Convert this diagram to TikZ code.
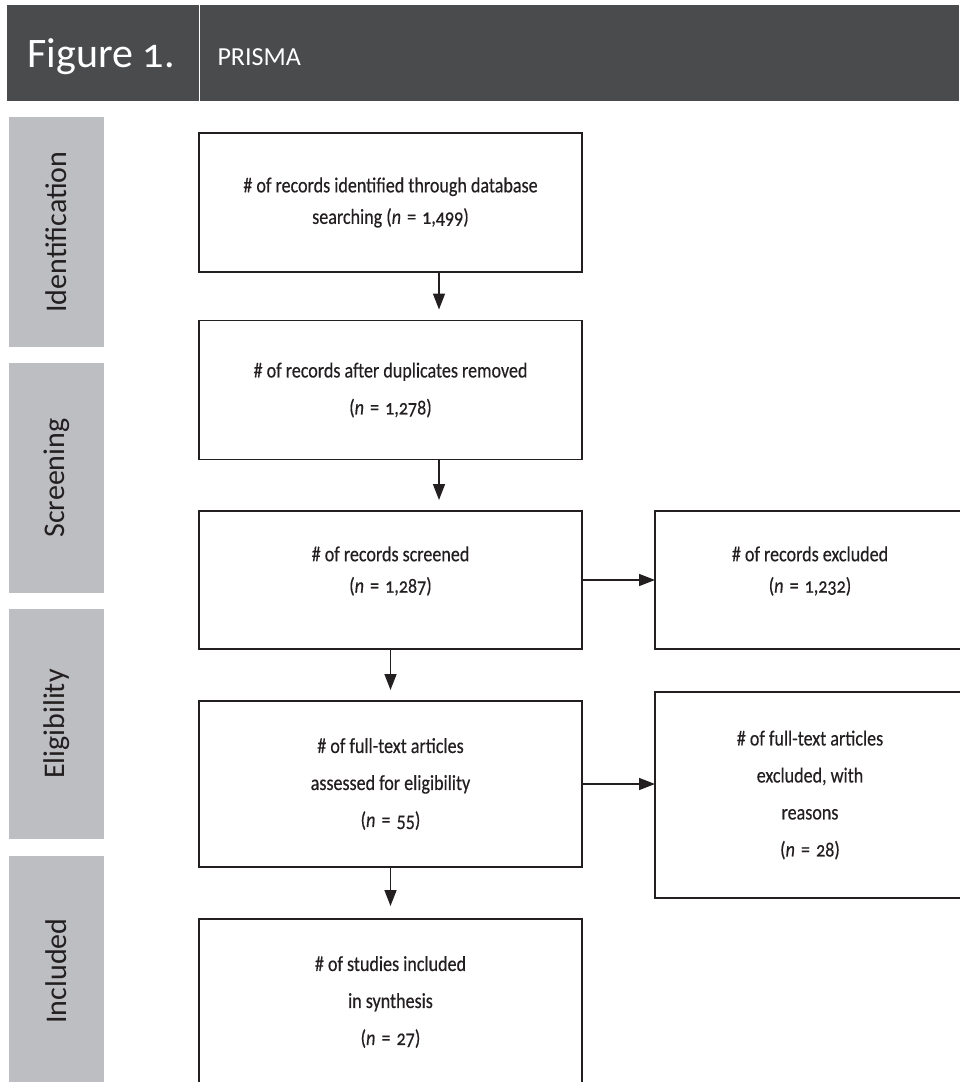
\documentclass[tikz,border=0pt]{standalone}
\usepackage{fontspec}
\setmainfont{Carlito}[Numbers=OldStyle]
\newfontfamily\narrowfont{Carlito}[Numbers=OldStyle, FakeStretch=0.84, FakeBold=0.4]
\usetikzlibrary{arrows.meta, positioning, calc}
\definecolor{headgray}{RGB}{74, 75, 77}
\definecolor{phasegray}{RGB}{189, 190, 194}
\definecolor{inkblack}{RGB}{35, 31, 32}
\newcommand{\nval}[1]{(\textit{n}\hspace{2pt} = \hspace{2pt}#1)}

\begin{document}
\begin{tikzpicture}[x=1pt, y=-1pt,
        arr/.style={-{Triangle[length=16pt, width=12pt]}, line width=1.6pt, draw=inkblack},
        box/.style={draw=inkblack, line width=1.5pt, minimum width=383pt,
                    minimum height=139pt, align=center, outer sep=0pt,
                    text=inkblack, font=\narrowfont\fontsize{21.5}{37}\selectfont},
        tight/.style={font=\narrowfont\fontsize{21.5}{31.5}\selectfont},
        raised/.style={text depth=21pt},
        sidebox/.style={box, minimum width=310pt},
        phase/.style={fill=phasegray, rotate=90, minimum width=230pt,
                      minimum height=95pt, outer sep=0pt, text=inkblack,
                      font=\fontsize{30}{30}\selectfont}
      ]
        \useasboundingbox (0,0) rectangle (959,1082);

        % header band
        \fill[headgray] (7,5) rectangle (959,101);
        \draw[white, line width=1pt] (199,5) -- (199,101);
        \node[anchor=west, text=white, font=\fontsize{42}{42}\selectfont] (fig) at (24,57)
              {Figure 1.};
        \node[anchor=west, text=white, font=\fontsize{26}{26}\selectfont] (title) at (214,57)
              {PRISMA};

        % phases
        \node[phase] (ident) at (56.5, 232) {Identification};
        \node[phase] (screen) at (56.5, 478) {Screening};
        \node[phase] (elig) at (56.5, 724) {Eligibility};
        \node[phase] (incl) at (56.5, 971) {Included};

        % main column
        \node[box, tight] (found) at (390.5, 202.5)
              {\# of records identified through database\\searching \nval{1,499}};
        \node[box] (dedup) at (390.5, 390)
              {\# of records after duplicates removed\\\nval{1,278}};
        \node[box, tight, raised, minimum height=138pt] (screened) at (390.5, 580)
              {\# of records screened\\\nval{1,287}};
        \node[box, minimum height=166pt] (fulltext) at (390.5, 784)
              {\# of full-text articles\\assessed for eligibility\\\nval{55}};
        \node[box, minimum height=166pt] (studies) at (390.5, 1002)
              {\# of studies included\\in synthesis\\\nval{27}};

        % exclusions
        \node[sidebox, tight, raised, minimum height=138pt] (recexcl) at (810, 580)
              {\# of records excluded\\\nval{1,232}};
        \node[sidebox, minimum height=206pt] (ftexcl) at (810, 795)
              {\# of full-text articles\\excluded, with\\reasons\\\nval{28}};

        \draw[arr, shorten >=11pt] ([xshift=48.5pt]found.south) -- ([xshift=48.5pt]dedup.north);
        \draw[arr, shorten >=11pt] ([xshift=48.5pt]dedup.south) -- ([xshift=48.5pt]screened.north);
        \draw[arr, shorten >=11pt] (screened.south) -- (fulltext.north);
        \draw[arr, shorten >=13pt] (fulltext.south) -- (studies.north);
        \draw[arr] (screened.east) -- (recexcl.west);
        \draw[arr] (fulltext.east) -- (fulltext.east -| ftexcl.west);
      \end{tikzpicture}
\end{document}
